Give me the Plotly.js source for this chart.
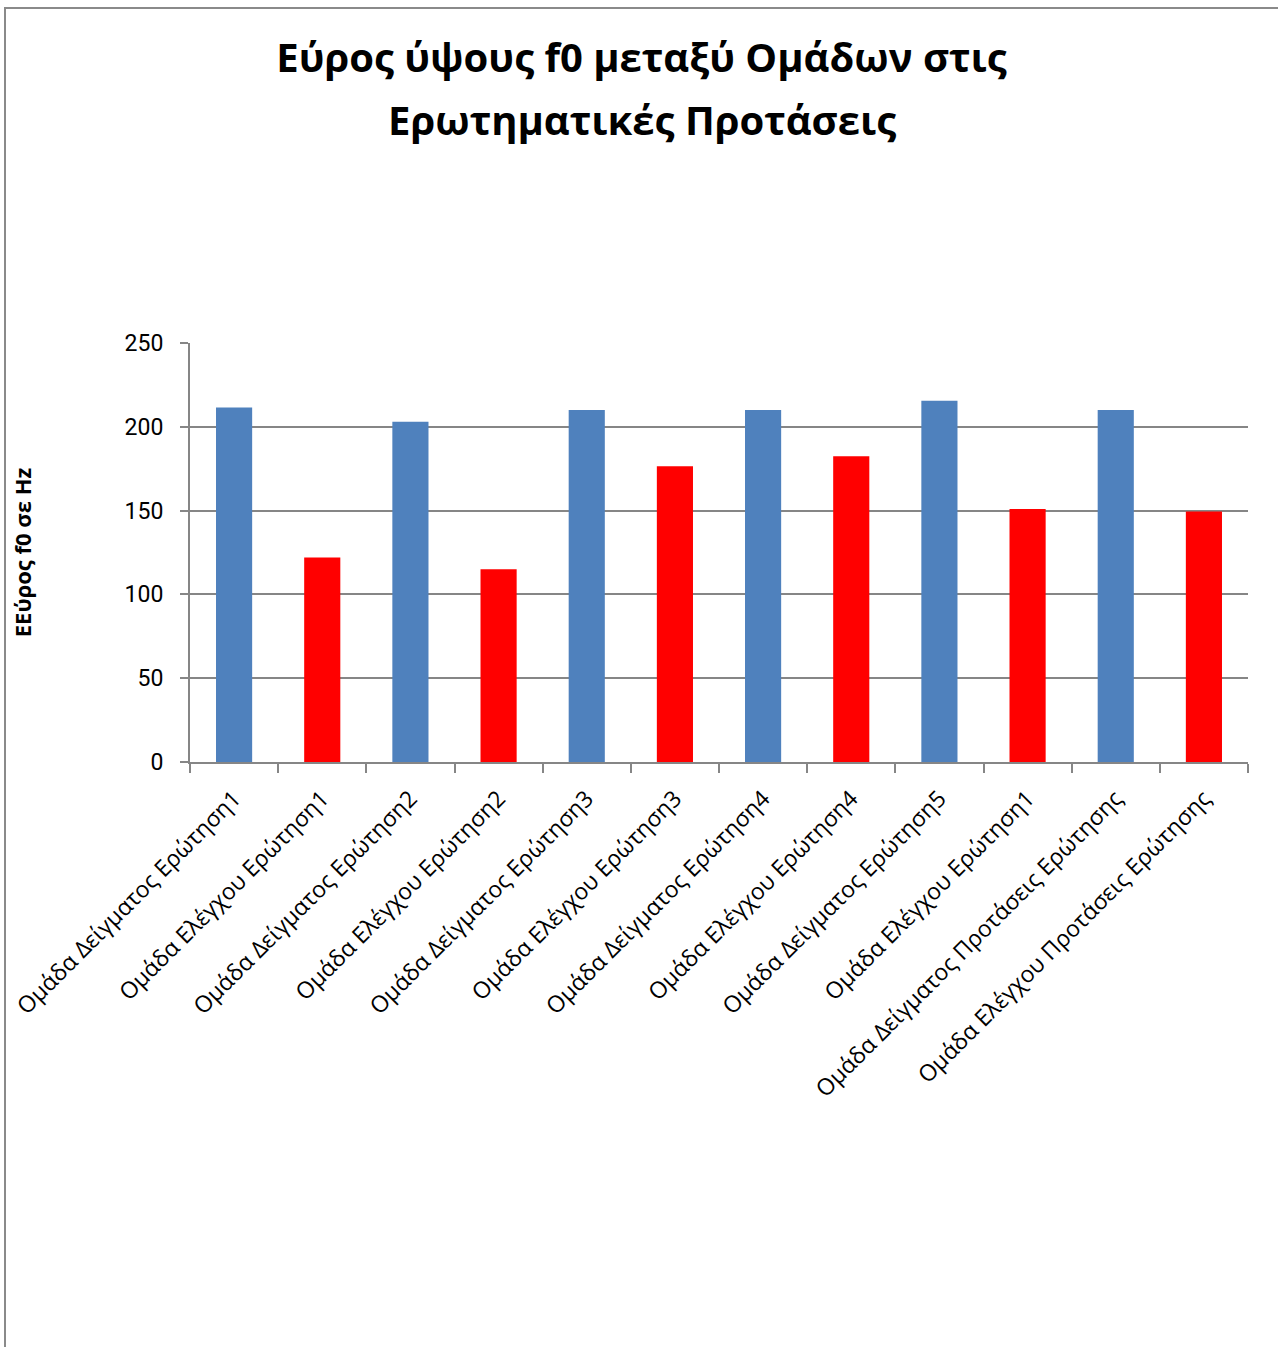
<!DOCTYPE html>
<html>
<head>
<meta charset="utf-8">
<script src="https://cdn.plot.ly/plotly-3.0.1.min.js"></script>
<style>
  html, body { margin: 0; padding: 0; background: #ffffff; }
  #wrap { position: relative; width: 1278px; height: 1347px; overflow: hidden; }
  #chart { position: absolute; left: 0; top: 0; width: 1278px; height: 1347px; }
  #frame { position: absolute; left: 4px; top: 7px; right: -10px; bottom: -10px;
           border-top: 2px solid #8a8a8a; border-left: 2px solid #8a8a8a; pointer-events: none; }
</style>
</head>
<body>
<div id="wrap">
  <div id="chart"></div>
  <div id="frame"></div>
</div>
<script>
// Pitch range (f0 range, Hz) per group and question
const categories = [
  'Ομάδα Δείγματος Ερώτηση1',
  'Ομάδα Ελέγχου Ερώτηση1',
  'Ομάδα Δείγματος Ερώτηση2',
  'Ομάδα Ελέγχου Ερώτηση2',
  'Ομάδα Δείγματος Ερώτηση3',
  'Ομάδα Ελέγχου Ερώτηση3',
  'Ομάδα Δείγματος Ερώτηση4',
  'Ομάδα Ελέγχου Ερώτηση4',
  'Ομάδα Δείγματος Ερώτηση5',
  'Ομάδα Ελέγχου Ερώτηση1',
  'Ομάδα Δείγματος Προτάσεις Ερώτησης',
  'Ομάδα Ελέγχου Προτάσεις Ερώτησης'
];
const groups = ['sample', 'control', 'sample', 'control', 'sample', 'control',
                'sample', 'control', 'sample', 'control', 'sample', 'control'];
const f0Range = [211.5, 122, 203, 115, 210, 176.5, 210, 182.5, 215.5, 151, 210, 149.5];
const yTicks = [0, 50, 100, 150, 200, 250];

const groupColors = { sample: '#4F81BD', control: '#FF0000' };
const positions = categories.map((_, i) => i);

const trace = {
  type: 'bar',
  x: positions,
  y: f0Range,
  width: 0.41,
  marker: { color: groups.map(g => groupColors[g]), line: { width: 0 } },
  hoverinfo: 'x+y',
  showlegend: false
};

const axisGrey = '#868686';
const titleFont = { family: 'Open Sans', size: 40, color: '#000000', weight: 'bold' };

const layout = {
  width: 1278,
  height: 1347,
  margin: { l: 190, r: 30, t: 343, b: 585 },
  paper_bgcolor: '#ffffff',
  plot_bgcolor: '#ffffff',
  title: {
    text: 'Εύρος ύψους f0 μεταξύ Ομάδων στις',
    font: titleFont,
    x: 0.502, xanchor: 'center',
    y: 1 - 58 / 1347, yref: 'container', yanchor: 'middle'
  },
  annotations: [{
    text: 'Ερωτηματικές Προτάσεις',
    font: titleFont,
    xref: 'paper', yref: 'paper',
    x: (642 - 190) / 1058, y: (762 - 120) / 419,
    xanchor: 'center', yanchor: 'middle',
    showarrow: false
  }],
  xaxis: {
    range: [-0.5, 11.5],
    tickvals: positions,
    ticktext: categories,
    tickangle: -45,
    ticks: '',
    ticklabelstandoff: 12,
    tickfont: { family: 'Open Sans', size: 23, color: '#000000' },
    showgrid: false,
    zeroline: false,
    showline: true,
    linecolor: axisGrey,
    linewidth: 2,
    minor: { tick0: -0.5, dtick: 1, ticks: 'outside', ticklen: 9, tickwidth: 2,
             tickcolor: axisGrey, showgrid: false },
    fixedrange: true
  },
  yaxis: {
    range: [0, 250],
    tickvals: yTicks,
    ticks: 'outside',
    ticklen: 8,
    tickwidth: 2,
    tickcolor: axisGrey,
    ticklabelstandoff: 12,
    tickfont: { family: 'Roboto', size: 23, color: '#000000' },
    showgrid: true,
    gridcolor: axisGrey,
    gridwidth: 2,
    zeroline: false,
    showline: true,
    linecolor: axisGrey,
    linewidth: 2,
    title: {
      text: 'ΕΕύρος f0 σε Hz',
      font: { family: 'Open Sans', size: 22, color: '#000000', weight: 'bold' },
      standoff: 87
    },
    automargin: false,
    fixedrange: true
  },
  bargap: 0.59
};

Plotly.newPlot('chart', [trace], layout, { displayModeBar: false, staticPlot: true });
</script>
</body>
</html>
